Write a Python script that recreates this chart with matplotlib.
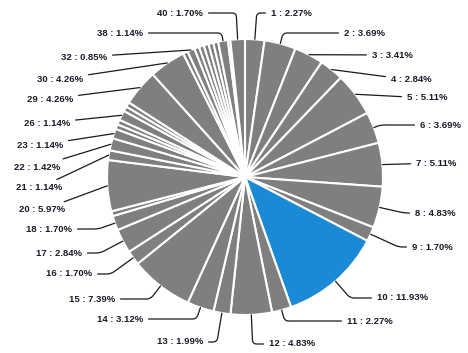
import numpy as np
import matplotlib.pyplot as plt

# --- data ---
slices = list(range(1, 41))
shares = [2.27, 3.69, 3.41, 2.84, 5.11, 3.69, 5.11, 4.83, 1.70, 11.93,
          2.27, 4.83, 1.99, 3.12, 7.39, 1.70, 2.84, 1.70, 0.57, 5.97,
          1.14, 1.42, 1.14, 0.57, 0.57, 1.14, 0.57, 0.57, 4.26, 4.26,
          0.57, 0.85, 0.57, 0.57, 0.57, 0.57, 0.57, 1.14, 0.28, 1.70]
highlight = 10

# label spots in pixels from top-left (slices 1-12 left aligned, others right aligned)
label_pos = {1: (271, 13), 2: (344, 33), 3: (372, 55), 4: (391, 80),
             5: (407, 98), 6: (420, 125), 7: (416, 163), 8: (415, 213),
             9: (412, 247), 10: (377, 298), 11: (347, 321), 12: (269, 344),
             13: (203, 342), 14: (143, 319), 15: (115, 299), 16: (92, 274),
             17: (82, 253), 18: (72, 229), 20: (65, 210), 21: (62, 188),
             22: (60, 167), 23: (63, 145), 26: (70, 123), 29: (73, 99),
             30: (83, 79), 32: (107, 57), 38: (143, 33), 40: (203, 13)}

plt.rcParams['font.family'] = ['Liberation Sans', 'DejaVu Sans']

W, H = 468, 353
fig = plt.figure(figsize=(W / 100, H / 100), dpi=100)
ax = fig.add_axes([0, 0, 1, 1])

colors = ['#1a8ad6' if s == highlight else '#7f7f7f' for s in slices]
explode = [0.07 if s == highlight else 0 for s in slices]
wedges, _ = ax.pie(shares, colors=colors, explode=explode, startangle=90,
                   counterclock=False, center=(245, H - 177), radius=138,
                   wedgeprops=dict(edgecolor='white', linewidth=1.5))
ax.set_xlim(0, W)
ax.set_ylim(0, H)
ax.set_aspect('equal')
ax.axis('off')

# --- labels with connectors ---
for s, (lx, ly) in label_pos.items():
    w = wedges[s - 1]
    mid = np.deg2rad((w.theta1 + w.theta2) / 2)
    cx, cy = w.center
    bx, by = cx + w.r * np.cos(mid), cy + w.r * np.sin(mid)
    ty = H - ly
    side = 'left' if s <= 12 else 'right'
    cs = 'arc3,rad=0'
    if abs(np.sin(mid)) > 0.15:
        t = (ty - by) / np.sin(mid)
        kx = bx + t * np.cos(mid)
        ok = (kx < lx - 4) if side == 'left' else (kx > lx + 4)
        if 3 < t < 90 and ok:
            cs = 'angle,angleA=0,angleB=%.1f,rad=4' % np.rad2deg(mid)
    ax.annotate('%d : %.2f%%' % (s, shares[s - 1]), xy=(bx, by), xytext=(lx, ty),
                ha=side, va='center', fontsize=6.8, fontweight='bold', color='#1a1a2a',
                arrowprops=dict(arrowstyle='-', color='#1a1a1a', lw=0.9,
                                shrinkA=2, shrinkB=0, connectionstyle=cs))

fig.savefig('out.png', dpi=100)
